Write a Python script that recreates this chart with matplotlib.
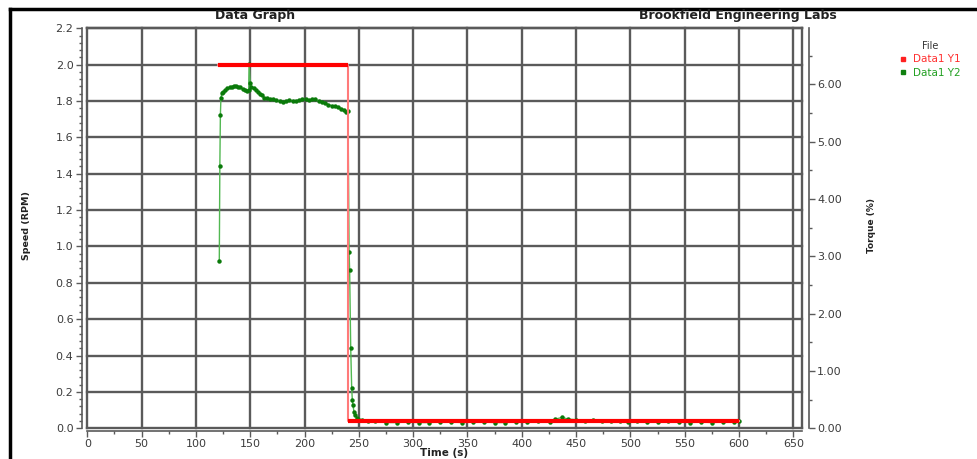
import matplotlib
matplotlib.use("Agg")
import matplotlib.pyplot as plt
from matplotlib.ticker import MultipleLocator, FormatStrFormatter
from matplotlib.lines import Line2D

# Data1 Y1: speed setpoint (RPM), left axis
speed_t = [120, 240, 240, 600]
speed_rpm = [2.0, 2.0, 0.04, 0.04]

# Data1 Y2: torque reading (%), right axis
torque_t = [121.5, 122, 122.5, 123, 124, 125, 127, 129, 131, 133, 135, 137, 139,
            141, 143, 145, 147, 148.5, 149, 150, 151, 153, 155, 157, 159, 161,
            163, 165, 168, 171, 174, 177, 180, 183, 186, 189, 192, 195, 198, 201,
            204, 207, 210, 213, 216, 219, 222, 225, 228, 231, 234, 236, 238, 240,
            241, 241.5, 242.5, 243.4, 244, 244.5, 245.5, 246.5, 248, 250, 253,
            258, 265, 275, 285, 295, 305, 315, 325, 335, 345, 355, 365, 375, 385,
            395, 405, 415, 426, 431, 437, 443, 450, 458, 466, 474, 482, 490, 498,
            506, 515, 525, 535, 545, 555, 565, 575, 585, 595, 600]
torque_pct = [2.92, 4.57, 5.46, 5.77, 5.85, 5.87, 5.90, 5.93, 5.95, 5.96, 5.98,
              5.98, 5.96, 5.95, 5.92, 5.90, 5.89, 5.90, 6.35, 6.03, 5.96, 5.93,
              5.90, 5.87, 5.84, 5.81, 5.77, 5.76, 5.74, 5.74, 5.73, 5.71, 5.70,
              5.71, 5.73, 5.71, 5.71, 5.73, 5.74, 5.74, 5.73, 5.74, 5.74, 5.71,
              5.70, 5.68, 5.65, 5.63, 5.62, 5.60, 5.58, 5.55, 5.52, 5.54,
              3.08, 2.76, 1.40, 0.70, 0.49, 0.41, 0.29, 0.23, 0.18, 0.15, 0.14,
              0.13, 0.12, 0.10, 0.10, 0.11, 0.10, 0.10, 0.11, 0.11, 0.10, 0.11,
              0.11, 0.10, 0.10, 0.11, 0.11, 0.12, 0.115, 0.16, 0.19, 0.16, 0.15,
              0.13, 0.14, 0.12, 0.13, 0.12, 0.11, 0.12, 0.11, 0.11, 0.12, 0.11,
              0.10, 0.11, 0.10, 0.11, 0.11, 0.12]

x_ticks = list(range(0, 651, 50))
grid_col = "#5a5a5a"
tick_col = "#3c3c3c"

plt.rcParams["font.family"] = ["DejaVu Sans"]

fig = plt.figure(figsize=(9.78, 4.59), dpi=100)
ax = fig.add_axes([0.0893, 0.0669, 0.7304, 0.8714])
ax2 = ax.twinx()

ax.set_xlim(0, 657.7)
ax.set_ylim(0, 2.2)
ax2.set_ylim(0, 6.98)

ax.set_xticks(x_ticks)
ax.xaxis.set_minor_locator(MultipleLocator(25))
ax.yaxis.set_major_locator(MultipleLocator(0.2))
ax.yaxis.set_minor_locator(MultipleLocator(0.04))
ax.yaxis.set_major_formatter(FormatStrFormatter("%.1f"))
ax2.yaxis.set_major_locator(MultipleLocator(1))
ax2.yaxis.set_minor_locator(MultipleLocator(0.5))
ax2.yaxis.set_major_formatter(FormatStrFormatter("%.2f"))

ax.grid(True, which="major", color=grid_col, lw=1.7, clip_on=False)
ax.set_axisbelow(True)

for s in ["top", "right"]:
    ax.spines[s].set_color(grid_col)
    ax.spines[s].set_linewidth(1.7)
for s in ["left", "bottom"]:
    ax.spines[s].set_color(grid_col)
    ax.spines[s].set_linewidth(1.2)
ax.spines["left"].set_position(("outward", 4))
ax.spines["bottom"].set_position(("outward", 2))

for s in ["left", "top", "bottom"]:
    ax2.spines[s].set_visible(False)
ax2.spines["right"].set_position(("outward", 5))
ax2.spines["right"].set_color(grid_col)
ax2.spines["right"].set_linewidth(1.2)

for a in (ax, ax2):
    a.tick_params(which="major", direction="out", length=4, width=1,
                  color=grid_col, labelsize=8, labelcolor=tick_col, pad=2)
    a.tick_params(which="minor", direction="out", length=2, width=1,
                  color=grid_col)

# torque trace: light line joining dark dots
ax2.plot(torque_t, torque_pct, color="#52b852", lw=1.0, zorder=2)
ax2.plot(torque_t, torque_pct, ls="none", marker="o", ms=3.2,
         color="#0a7a0a", mec="none", zorder=3)

# speed setpoint drawn in speed units on top of the torque trace
ax2.plot(speed_t, speed_rpm, color="#ff7a7a", lw=1.5, transform=ax.transData,
         zorder=4)
ax2.plot(speed_t[:2], speed_rpm[:2], color="#ff0000", lw=3,
         transform=ax.transData, zorder=5, solid_capstyle="butt")
ax2.plot(speed_t[2:], speed_rpm[2:], color="#ff0000", lw=3,
         transform=ax.transData, zorder=5, solid_capstyle="butt")

fig.text(255 / 978, 1 - 16 / 459, "Data Graph", ha="center", va="center",
         fontsize=9, fontweight="bold", color="#222222")
fig.text(738 / 978, 1 - 16 / 459, "Brookfield Engineering Labs", ha="center",
         va="center", fontsize=9, fontweight="bold", color="#222222")
fig.text(27 / 978, 1 - 226 / 459, "Speed (RPM)", rotation=90, ha="center",
         va="center", fontsize=6.8, fontweight="bold", color="#222222")
fig.text(872 / 978, 1 - 225 / 459, "Torque (%)", rotation=90, ha="center",
         va="center", fontsize=6.5, fontweight="bold", color="#222222")
fig.text(444 / 978, 1 - 453 / 459, "Time (s)", ha="center", va="center",
         fontsize=7.5, fontweight="bold", color="#222222")

handles = [Line2D([], [], ls="none", marker="s", ms=2.5, color="#ff2020"),
           Line2D([], [], ls="none", marker="s", ms=2.5, color="#108010")]
leg = fig.legend(handles, ["Data1 Y1", "Data1 Y2"], title="File",
                 loc="upper left", bbox_to_anchor=(893 / 978, 1 - 34 / 459),
                 frameon=False, fontsize=7.5, title_fontsize=7,
                 labelcolor=["#ff3030", "#22a022"], handlelength=0.6,
                 handletextpad=0.6, labelspacing=0.3, borderpad=0.2)
leg.get_title().set_color("#333333")

# outer frame
fig.add_artist(Line2D([10 / 978, 10 / 978], [0, 1 - 9 / 459],
                      transform=fig.transFigure, color="black", lw=2.5))
fig.add_artist(Line2D([10 / 978, 1], [1 - 9 / 459, 1 - 9 / 459],
                      transform=fig.transFigure, color="black", lw=2.5))

fig.savefig("out.png", dpi=100)
